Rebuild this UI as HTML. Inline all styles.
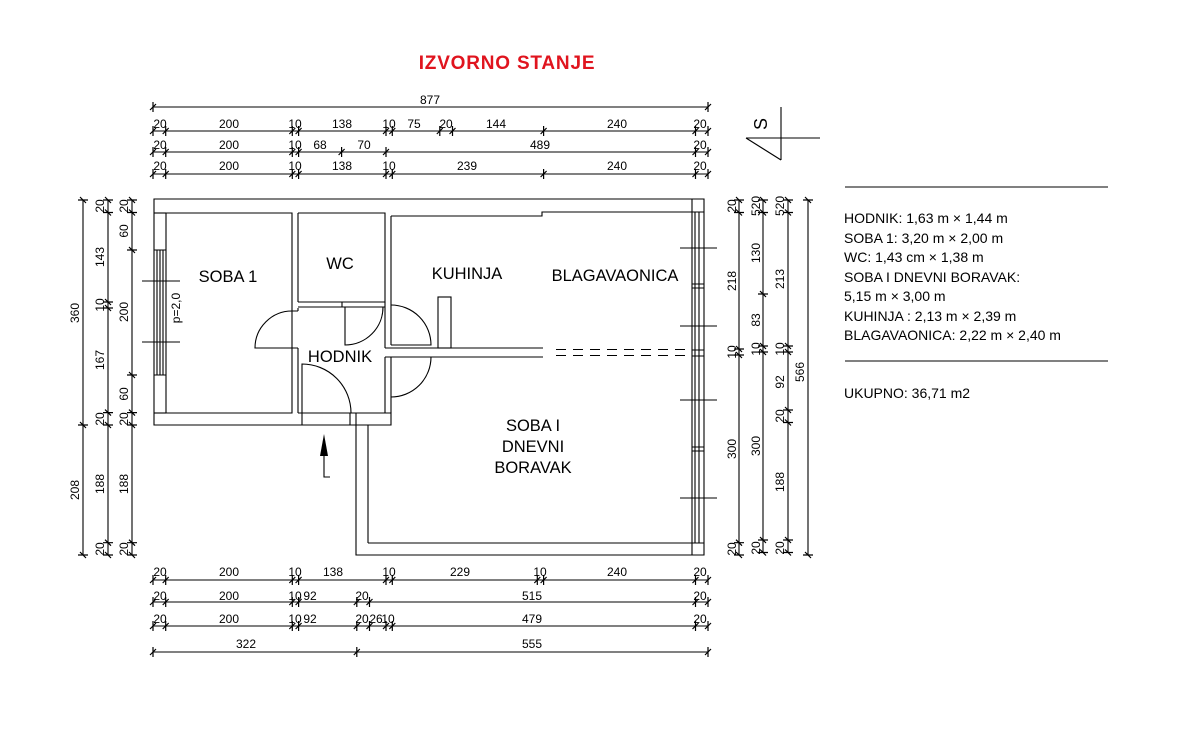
<!DOCTYPE html>
<html><head><meta charset="utf-8"><style>
html,body{margin:0;padding:0;background:#fff;}
svg{display:block;font-family:"Liberation Sans",Arial,sans-serif;}
</style></head><body>
<svg width="1200" height="740" viewBox="0 0 1200 740" xmlns="http://www.w3.org/2000/svg">
<defs>
<marker id="t" markerUnits="userSpaceOnUse" markerWidth="14" markerHeight="14" refX="7" refY="7" orient="auto" viewBox="0 0 14 14">
<path d="M7 2V12M4 10L10 4" stroke="#000" stroke-width="1.2" fill="none"/>
</marker>
</defs>
<rect width="1200" height="740" fill="#fff"/>
<text x="507" y="69" text-anchor="middle" font-size="19" font-weight="bold" letter-spacing="0.8" fill="#e0141e">IZVORNO STANJE</text>

<g stroke="#000" stroke-width="1.1" fill="none" marker-start="url(#t)" marker-mid="url(#t)" marker-end="url(#t)">
<polyline points="153,107 708,107"/>
<polyline points="153,131 165.7,131 292.3,131 298.6,131 386,131 392.3,131 439.8,131 452.5,131 543.6,131 695.5,131 708,131"/>
<polyline points="153,152 165.7,152 292.3,152 298.6,152 341.6,152 386,152 695.5,152 708,152"/>
<polyline points="153,174 165.7,174 292.3,174 298.6,174 386,174 392.3,174 543.6,174 695.5,174 708,174"/>
<polyline points="153,580 165.7,580 292.3,580 298.6,580 386,580 392.3,580 537.3,580 543.6,580 695.5,580 708,580"/>
<polyline points="153,602 165.7,602 292.3,602 298.6,602 356.8,602 369.5,602 695.5,602 708,602"/>
<polyline points="153,626 165.7,626 292.3,626 298.6,626 356.8,626 369.5,626 386,626 392.3,626 695.5,626 708,626"/>
<polyline points="153,652 356.8,652 708,652"/>
<polyline points="83,200 83,425 83,555"/>
<polyline points="108,200 108,212.5 108,302 108,308 108,412.6 108,425 108,542.7 108,555"/>
<polyline points="132,200 132,212.5 132,250 132,375 132,412.6 132,425 132,542.7 132,555"/>
<polyline points="739,200 739,212.5 739,349 739,355 739,542.7 739,555"/>
<polyline points="763,200 763,212.5 763,294 763,346 763,352 763,540 763,552.5"/>
<polyline points="788,200 788,212.5 788,346 788,352 788,410 788,422.5 788,540 788,552.5"/>
<polyline points="808,200 808,555"/>
</g>

<g font-size="12" text-anchor="middle" fill="#000">
<text x="430" y="104">877</text>
<text x="160" y="128">20</text><text x="229" y="128">200</text><text x="295" y="128">10</text><text x="342" y="128">138</text><text x="389" y="128">10</text><text x="414" y="128">75</text><text x="446" y="128">20</text><text x="496" y="128">144</text><text x="617" y="128">240</text><text x="700" y="128">20</text>
<text x="160" y="149">20</text><text x="229" y="149">200</text><text x="295" y="149">10</text><text x="320" y="149">68</text><text x="364" y="149">70</text><text x="540" y="149">489</text><text x="700" y="149">20</text>
<text x="160" y="170">20</text><text x="229" y="170">200</text><text x="295" y="170">10</text><text x="342" y="170">138</text><text x="389" y="170">10</text><text x="467" y="170">239</text><text x="617" y="170">240</text><text x="700" y="170">20</text>
<text x="160" y="576">20</text><text x="229" y="576">200</text><text x="295" y="576">10</text><text x="333" y="576">138</text><text x="389" y="576">10</text><text x="460" y="576">229</text><text x="540" y="576">10</text><text x="617" y="576">240</text><text x="700" y="576">20</text>
<text x="160" y="600">20</text><text x="229" y="600">200</text><text x="295" y="600">10</text><text x="310" y="600">92</text><text x="362" y="600">20</text><text x="532" y="600">515</text><text x="700" y="600">20</text>
<text x="160" y="623">20</text><text x="229" y="623">200</text><text x="295" y="623">10</text><text x="310" y="623">92</text><text x="362" y="623">20</text><text x="376" y="623">26</text><text x="388" y="623">10</text><text x="532" y="623">479</text><text x="700" y="623">20</text>
<text x="246" y="648">322</text><text x="532" y="648">555</text>
</g>

<g font-size="12" text-anchor="middle" fill="#000">
<text transform="translate(79,313) rotate(-90)">360</text>
<text transform="translate(79,490) rotate(-90)">208</text>
<text transform="translate(104,206) rotate(-90)">20</text>
<text transform="translate(104,257) rotate(-90)">143</text>
<text transform="translate(104,305) rotate(-90)">10</text>
<text transform="translate(104,360) rotate(-90)">167</text>
<text transform="translate(104,419) rotate(-90)">20</text>
<text transform="translate(104,484) rotate(-90)">188</text>
<text transform="translate(104,549) rotate(-90)">20</text>
<text transform="translate(128,206) rotate(-90)">20</text>
<text transform="translate(128,231) rotate(-90)">60</text>
<text transform="translate(128,312) rotate(-90)">200</text>
<text transform="translate(128,394) rotate(-90)">60</text>
<text transform="translate(128,419) rotate(-90)">20</text>
<text transform="translate(128,484) rotate(-90)">188</text>
<text transform="translate(128,549) rotate(-90)">20</text>
<text transform="translate(736,206) rotate(-90)">20</text>
<text transform="translate(736,281) rotate(-90)">218</text>
<text transform="translate(736,352) rotate(-90)">10</text>
<text transform="translate(736,449) rotate(-90)">300</text>
<text transform="translate(736,549) rotate(-90)">20</text>
<text transform="translate(760,206) rotate(-90)">520</text>
<text transform="translate(760,253) rotate(-90)">130</text>
<text transform="translate(760,320) rotate(-90)">83</text>
<text transform="translate(760,349) rotate(-90)">10</text>
<text transform="translate(760,446) rotate(-90)">300</text>
<text transform="translate(760,548) rotate(-90)">20</text>
<text transform="translate(784,206) rotate(-90)">520</text>
<text transform="translate(784,279) rotate(-90)">213</text>
<text transform="translate(784,349) rotate(-90)">10</text>
<text transform="translate(784,382) rotate(-90)">92</text>
<text transform="translate(784,416) rotate(-90)">20</text>
<text transform="translate(784,482) rotate(-90)">188</text>
<text transform="translate(784,548) rotate(-90)">20</text>
<text transform="translate(804,372) rotate(-90)">566</text>
</g>

<!-- north sign -->
<g stroke="#000" stroke-width="1.1" fill="none">
<line x1="781" y1="107" x2="781" y2="160"/>
<line x1="746" y1="138" x2="820" y2="138"/>
<line x1="746" y1="138" x2="781" y2="160"/>
</g>
<text transform="translate(767,124) rotate(-90)" font-size="18" text-anchor="middle" fill="#000">S</text>

<!-- plan walls -->
<g stroke="#000" stroke-width="1.1" fill="none">
<path d="M154,199 H704 V555 H356 V425 H154 Z"/>
<path d="M166,213 V413 H292 V213 Z"/>
<line x1="154" y1="213" x2="166" y2="213"/>
<line x1="154" y1="413" x2="166" y2="413"/>
<path d="M298,213 V302 M298,308 V311 M292,311 H298 M292,348 H298 M298,348 V413"/>
<path d="M298,213 H385 V302 H342 M342,302 V307 M298,307 H342 M342,307 H385"/>
<path d="M298,302 H342"/>
<path d="M385,302 V348 M391,216 V345 M385,357 V413 M391,357 V413"/>
<path d="M391,216 H542 V212 H692"/>
<path d="M385,348 H543 M385,357 H543"/>
<path d="M298,413 H356 M356,413 V425 M298,425 H356 M356,413 H391 V425 H356"/>
<line x1="302" y1="413" x2="302" y2="425"/>
<line x1="350" y1="413" x2="350" y2="425"/>
<line x1="368" y1="425" x2="368" y2="543"/>
<line x1="368" y1="543" x2="692" y2="543"/>
<rect x="438" y="297" width="13" height="51"/>
<path d="M292,311 A37,37 0 0 0 255,348 H292"/>
<path d="M345,307 V345 A38,38 0 0 0 383,307"/>
<path d="M391,305 A40,40 0 0 1 431,345 H391"/>
<path d="M391,357 H431 A40,40 0 0 1 391,397"/>
<path d="M302,413 V364 A49,49 0 0 1 351,413"/>
<path d="M556,349.5 H690 M556,355.5 H690" stroke-dasharray="10,7"/>
<path d="M157,250 V375 M160,250 V375 M163,250 V375 M154,250 H166 M154,375 H166"/>
<line x1="142" y1="281" x2="180" y2="281"/>
<line x1="142" y1="342" x2="180" y2="342"/>
<path d="M692,199 V555 M695,212 V543 M699,212 V543 M692,212 H704 M692,543 H704"/>
<path d="M692,284 H704 M692,288 H704 M692,350 H704 M692,356 H704 M692,447 H704 M692,451 H704"/>
<line x1="680" y1="248" x2="717" y2="248"/>
<line x1="680" y1="326" x2="717" y2="326"/>
<line x1="680" y1="400" x2="717" y2="400"/>
<line x1="680" y1="498" x2="717" y2="498"/>
<path d="M324,456 V477 H330"/>
</g>
<path d="M324,434 L320,456 H328 Z" fill="#000"/>

<g font-size="16.5" text-anchor="middle" fill="#000">
<text x="228" y="282">SOBA 1</text>
<text x="340" y="269">WC</text>
<text x="467" y="279">KUHINJA</text>
<text x="615" y="281">BLAGAVAONICA</text>
<text x="340" y="362">HODNIK</text>
<text x="533" y="431">SOBA I</text>
<text x="533" y="452">DNEVNI</text>
<text x="533" y="473">BORAVAK</text>
</g>
<text transform="translate(180,308) rotate(-90)" font-size="12" text-anchor="middle" fill="#000">p=2,0</text>

<g stroke="#000" stroke-width="1.1"><line x1="845" y1="187" x2="1108" y2="187"/><line x1="845" y1="361" x2="1108" y2="361"/></g>
<g font-size="14" fill="#000">
<text x="844" y="223">HODNIK: 1,63 m × 1,44 m</text>
<text x="844" y="243">SOBA 1: 3,20 m × 2,00 m</text>
<text x="844" y="262">WC: 1,43 cm × 1,38 m</text>
<text x="844" y="282">SOBA I DNEVNI BORAVAK:</text>
<text x="844" y="301">5,15 m × 3,00 m</text>
<text x="844" y="321">KUHINJA : 2,13 m × 2,39 m</text>
<text x="844" y="340">BLAGAVAONICA: 2,22 m × 2,40 m</text>
<text x="844" y="398">UKUPNO: 36,71 m2</text>
</g>
</svg>
</body></html>
